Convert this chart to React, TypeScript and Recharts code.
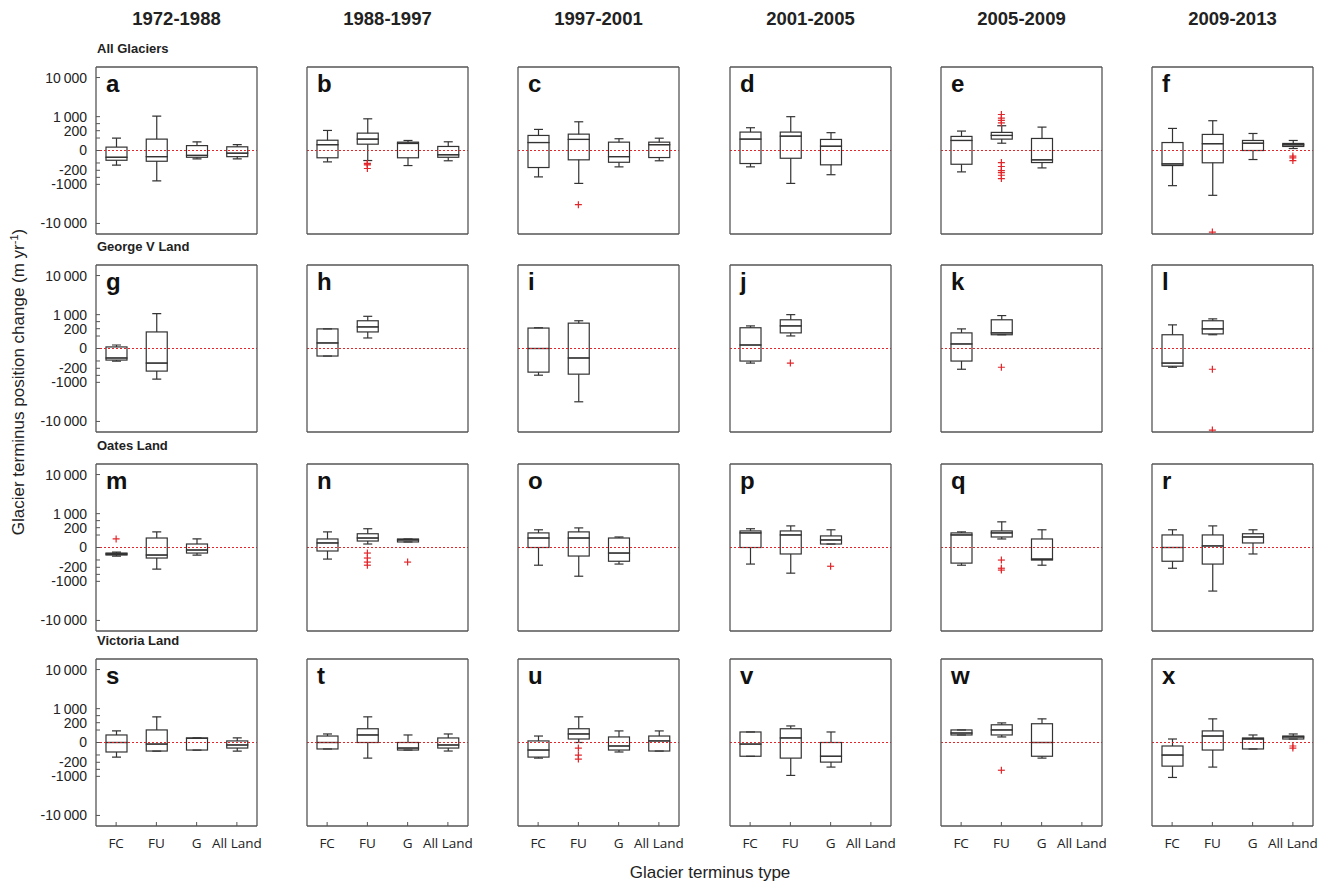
import React from "react";
import { ComposedChart, Bar, Scatter, XAxis, YAxis, ReferenceLine } from "recharts";

// ---- data ----
const periods = ["1972-1988", "1988-1997", "1997-2001", "2001-2005", "2005-2009", "2009-2013"];
const regions = ["All Glaciers", "George V Land", "Oates Land", "Victoria Land"];
const terminusTypes = ["FC", "FU", "G", "All Land"];
const panelLetters = "abcdefghijklmnopqrstuvwx".split("");
const yTicks = [10000, 1000, 500, 200, 50, 0, -50, -200, -500, -1000, -10000];
const yTickLabels: Record<string, string> = {
  "10000": "10\u2009000",
  "1000": "1\u2009000",
  "200": "200",
  "0": "0",
  "-200": "-200",
  "-1000": "-1000",
  "-10000": "-10\u2009000",
};

// [lower whisker, q1, median, q3, upper whisker, outliers]
type Stat = [number, number, number, number, number, number[]?] | null;

// All Glaciers
const boxA: Stat[] = [[-82, -24, -8, 1, 48], [-726, -32, -6, 38, 1050], [-15, -8, -3, 3, 17], [-15, -6, -0.5, 1.3, 5]];
const boxB: Stat[] = [[-38, -10, 5, 28, 208], [-26, 6.5, 38, 135, 820, [-55, -62, -75, -150]], [-88, -10, 9, 15, 26], [-28, -8, -2, 1.7, 17]];
const boxC: Stat[] = [[-474, -127, 13, 88, 242], [-918, -21, 35, 113, 610, [-4100]], [-113, -42, -6, 15, 42], [-28, -9, 5, 15, 48]];
const boxD: Stat[] = [[-113, -57, 38, 161, 304], [-918, -12, 76, 161, 997], [-366, -76, 2, 35, 146], null];
const boxE: Stat[] = [[-252, -67, 26, 72, 189], [10, 38, 88, 153, 391, [540, 700, 870, 1200, -45, -106, -208, -277, -391, -573]], [-136, -45, -21, 45, 330], null];
const boxF: Stat[] = [[-1120, -88, -62, 13, 277], [-2320, -48, 8, 107, 680, [-14000]], [-19, 0, 10, 26, 127], [0.2, 1.7, 4.8, 9, 26, [-4.4, -10, -26]]];
// George V Land
const boxG: Stat[] = [[-51, -40, -22, 0.1, 1.1], [-740, -297, -80, 117, 1100], null, null];
const boxH: Stat[] = [[-11, -11, 4.4, 194, 194], [30, 117, 259, 550, 860], null, null];
const boxI: Stat[] = [[-490, -340, 0, 220, 230], [-3900, -435, -22, 420, 550], null, null];
const boxJ: Stat[] = [[-80, -51, 1.1, 230, 297], [51, 98, 297, 610, 1000, [-80]], null, null];
const boxK: Stat[] = [[-230, -51, 2.4, 98, 194], [67, 67, 98, 610, 920, [-170]], null, null];
const boxL: Stat[] = [[-170, -143, -80, 67, 340], [67, 80, 194, 550, 670, [-230, -14000]], null, null];
// Oates Land
const boxM: Stat[] = [[-16, -11, -7, -4.4, -2.4, [16]], [-260, -30, -11, 22, 98], [-11, -4.4, -0.4, 1.1, 16], null];
const boxN: Stat[] = [[-40, -1.1, 2.4, 16, 98], [1.1, 7, 22, 67, 170, [-4.4, -30, -80, -143]], [4.4, 4.4, 11, 16, 16, [-80]], null];
const boxO: Stat[] = [[-143, 0, 22, 80, 143], [-610, -16, 22, 98, 194], [-117, -67, -4.4, 22, 30], null];
const boxP: Stat[] = [[-117, 0, 80, 117, 170], [-435, -7, 51, 117, 260], [1.1, 1.1, 11, 40, 143, [-170]], null];
const boxQ: Stat[] = [[-143, -98, 51, 80, 98], [16, 30, 80, 117, 435, [-51, -230, -297]], [-143, -51, -40, 16, 143], null];
const boxR: Stat[] = [[-230, -67, 0, 51, 143], [-2130, -117, 0.1, 51, 260], [-7, 2.4, 30, 67, 143], null];
// Victoria Land
const boxS: Stat[] = [[-80, -22, 0, 11, 40], [-16, -16, -0.1, 51, 435], [-11, -11, 2, 2.4, 2.4], [-16, -4.4, -0.4, 0.1, 2.4]];
const boxT: Stat[] = [[-7, -7, 0, 7, 16], [-98, 0, 11, 67, 435], [-11, -11, -4.4, 0, 11], [-16, -4.4, -0.4, 2.4, 16]];
const boxU: Stat[] = [[-98, -80, -11, 0.1, 7], [0, 1.1, 16, 67, 435, [-4.4, -51, -117]], [-22, -11, -1.1, 4.4, 40], [-16, -16, 0.1, 7, 40]];
const boxV: Stat[] = [[-67, -67, -0.1, 30, 30], [-920, -98, 2.4, 67, 117], [-383, -194, -67, 0, 30], null];
const boxW: Stat[] = [[11, 11, 22, 51, 51], [4.4, 11, 51, 143, 194, [-550]], [-98, -67, 0, 170, 340], null];
const boxX: Stat[] = [[-1100, -340, -51, -1.1, 1.1], [-383, -11, 7, 40, 340], [-7, -7, 1.1, 2.4, 11], [1.1, 1.1, 4.4, 7, 16, [-1.1, -4.4]]];

const panels = [
  boxA, boxB, boxC, boxD, boxE, boxF,
  boxG, boxH, boxI, boxJ, boxK, boxL,
  boxM, boxN, boxO, boxP, boxQ, boxR,
  boxS, boxT, boxU, boxV, boxW, boxX,
];

// ---- layout ----
const FRAME_W = 161;
const FRAME_H = 167;
const colLeft = [96, 307, 518, 730, 941, 1152];
const rowTop = [67, 265, 464, 659];
const BOX_W = 21;
const CAP = 4.5;
const INK = "#333";
const FRAME = "#555";
const RED = "#e2262b";
const SANS = "'Liberation Sans', Arial, Helvetica, sans-serif";

const maxOutliers = Math.max(...panels.flat().map((s) => (s && s[5] ? s[5].length : 0)));

// symmetric cube-root scale, used by the y axes
const cbrt = (v: number) => Math.sign(v) * Math.pow(Math.abs(v), 1 / 3);
function cubeRootScale(): any {
  let dom = [0, 1];
  let rng = [0, 1];
  const s: any = (v: any) => {
    if (v === null || v === undefined || v === "") return NaN;
    const a = cbrt(dom[0]);
    const b = cbrt(dom[1]);
    return rng[0] + ((cbrt(Number(v)) - a) / (b - a)) * (rng[1] - rng[0]);
  };
  s.domain = (d?: any[]) => {
    if (d === undefined) return dom.slice();
    dom = d.map(Number);
    return s;
  };
  s.range = (r?: any[]) => {
    if (r === undefined) return rng.slice();
    rng = r.map(Number);
    return s;
  };
  s.invert = (p: number) => {
    const a = cbrt(dom[0]);
    const b = cbrt(dom[1]);
    const t = a + ((p - rng[0]) / (rng[1] - rng[0])) * (b - a);
    return t * t * t;
  };
  s.ticks = () => yTicks.slice();
  s.tickFormat = () => (v: any) => String(v);
  s.copy = () => cubeRootScale().domain(dom).range(rng);
  return s;
}

const ok = (...n: any[]) => n.every((v) => Number.isFinite(v));

const WhiskerDown = (p: any) => {
  const { x, y, width, height } = p;
  if (!ok(x, y, width, height)) return <g />;
  const cx = x + width / 2;
  const y0 = Math.min(y, y + height);
  const y1 = Math.max(y, y + height);
  return (
    <g stroke={INK} strokeWidth={1.2}>
      <line x1={cx} x2={cx} y1={y0} y2={y1} />
      <line x1={cx - CAP} x2={cx + CAP} y1={y1} y2={y1} />
    </g>
  );
};

const WhiskerUp = (p: any) => {
  const { x, y, width, height } = p;
  if (!ok(x, y, width, height)) return <g />;
  const cx = x + width / 2;
  const y0 = Math.min(y, y + height);
  const y1 = Math.max(y, y + height);
  return (
    <g stroke={INK} strokeWidth={1.2}>
      <line x1={cx} x2={cx} y1={y0} y2={y1} />
      <line x1={cx - CAP} x2={cx + CAP} y1={y0} y2={y0} />
    </g>
  );
};

const BoxHalf = (p: any) => {
  const { x, y, width, height } = p;
  if (!ok(x, y, width, height)) return <g />;
  return (
    <rect
      x={x}
      y={Math.min(y, y + height)}
      width={width}
      height={Math.abs(height)}
      fill="none"
      stroke={INK}
      strokeWidth={1.2}
    />
  );
};

const Plus = (p: any) => {
  const { cx, cy } = p;
  if (!ok(cx, cy)) return <g />;
  return (
    <g stroke={RED} strokeWidth={1.2}>
      <line x1={cx - 3.5} x2={cx + 3.5} y1={cy} y2={cy} />
      <line x1={cx} x2={cx} y1={cy - 3.5} y2={cy + 3.5} />
    </g>
  );
};

function Panel({ stats, col, row }: { stats: Stat[]; col: number; row: number }) {
  const first = col === 0;
  const last = row === 3;
  const yw = first ? 90 : 1;
  const xh = last ? 32 : 1;
  const data = terminusTypes.map((t, i) => {
    const s = stats[i];
    return s
      ? { type: t, lo: s[0], q1: s[1], med: s[2], q3: s[3], hi: s[4], out: s[5] ?? [] }
      : { type: t, out: [] as number[] };
  });
  const fx = colLeft[col];
  const fy = rowTop[row];
  const line = { stroke: FRAME, strokeWidth: 1.3 };
  const tickLine = { stroke: FRAME, strokeWidth: 1 };

  return (
    <div style={{ position: "absolute", left: fx - 2 - yw, top: fy - 3 }}>
      <ComposedChart
        width={2 + yw + FRAME_W + 1 + 16}
        height={3 + FRAME_H + xh + 2}
        data={data}
        margin={{ top: 2, right: 16, bottom: 2, left: 2 }}
        barGap={-BOX_W}
        barSize={BOX_W}
      >
        <XAxis
          xAxisId="x"
          dataKey="type"
          orientation="bottom"
          height={xh}
          tickSize={-4}
          tickMargin={16}
          interval={0}
          axisLine={line}
          tickLine={tickLine}
          tick={last ? { fontSize: 13.5, fill: "#222", fontFamily: "'Open Sans', sans-serif" } : false}
        />
        <XAxis
          xAxisId="top"
          dataKey="type"
          orientation="top"
          height={1}
          tickSize={-4}
          interval={0}
          axisLine={line}
          tickLine={tickLine}
          tick={false}
        />
        <YAxis
          yAxisId="l"
          type="number"
          scale={cubeRootScale()}
          domain={[-15000, 15000]}
          allowDataOverflow
          ticks={yTicks}
          interval={0}
          width={yw}
          tickSize={-4}
          tickMargin={13}
          axisLine={line}
          tickLine={tickLine}
          tick={first ? { fontSize: 14, fill: "#222", fontFamily: SANS } : false}
          tickFormatter={(v: any) => yTickLabels[String(v)] ?? ""}
        />
        <YAxis
          yAxisId="r"
          orientation="right"
          type="number"
          scale={cubeRootScale()}
          domain={[-15000, 15000]}
          allowDataOverflow
          ticks={yTicks}
          interval={0}
          width={1}
          tickSize={-4}
          axisLine={line}
          tickLine={tickLine}
          tick={false}
        />
        <ReferenceLine
          xAxisId="x"
          yAxisId="l"
          y={0}
          stroke={RED}
          strokeWidth={1}
          strokeDasharray="2 2"
        />
        <Bar
          xAxisId="x"
          yAxisId="l"
          barSize={BOX_W}
          dataKey={(d: any) => (d.lo == null ? null : [d.lo, d.q1])}
          shape={WhiskerDown}
          isAnimationActive={false}
        />
        <Bar
          xAxisId="x"
          yAxisId="l"
          barSize={BOX_W}
          dataKey={(d: any) => (d.q1 == null ? null : [d.q1, d.med])}
          shape={BoxHalf}
          isAnimationActive={false}
        />
        <Bar
          xAxisId="x"
          yAxisId="l"
          barSize={BOX_W}
          dataKey={(d: any) => (d.med == null ? null : [d.med, d.q3])}
          shape={BoxHalf}
          isAnimationActive={false}
        />
        <Bar
          xAxisId="x"
          yAxisId="l"
          barSize={BOX_W}
          dataKey={(d: any) => (d.q3 == null ? null : [d.q3, d.hi])}
          shape={WhiskerUp}
          isAnimationActive={false}
        />
        {Array.from({ length: maxOutliers }, (_, k) => (
          <Scatter
            key={k}
            xAxisId="x"
            yAxisId="l"
            dataKey={(d: any) => d.out[k]}
            shape={Plus}
            isAnimationActive={false}
          />
        ))}
      </ComposedChart>
    </div>
  );
}

export default function App() {
  return (
    <div style={{ position: "absolute", left: 0, top: 0, width: 1334, height: 883, background: "#fff" }}>
      {panels.map((stats, i) => (
        <Panel key={i} stats={stats} col={i % 6} row={Math.floor(i / 6)} />
      ))}
      <svg
        width={1334}
        height={883}
        style={{ position: "absolute", left: 0, top: 0, pointerEvents: "none" }}
        fontFamily={SANS}
      >
        {periods.map((p, c) => (
          <text key={p} x={colLeft[c] + FRAME_W / 2} y={25} textAnchor="middle" fontSize={18.5} fontWeight="bold" fill="#222">
            {p}
          </text>
        ))}
        {regions.map((r, i) => (
          <text key={r} x={colLeft[0] + 1} y={rowTop[i] - 14.3} fontSize={13} fontWeight="bold" fill="#222">
            {r}
          </text>
        ))}
        {panelLetters.map((l, i) => (
          <text
            key={l}
            x={colLeft[i % 6] + 10}
            y={rowTop[Math.floor(i / 6)] + 25}
            fontSize={24}
            fontWeight="bold"
            fill="#111"
          >
            {l}
          </text>
        ))}
        <text x={24} y={382} transform="rotate(-90 24 382)" textAnchor="middle" fontSize={17} fill="#222">
          Glacier terminus position change (m yr
          <tspan dy={-6} fontSize={11}>-1</tspan>
          <tspan dy={6}>)</tspan>
        </text>
        <text x={710} y={878} textAnchor="middle" fontSize={17} fill="#222">
          Glacier terminus type
        </text>
      </svg>
    </div>
  );
}
